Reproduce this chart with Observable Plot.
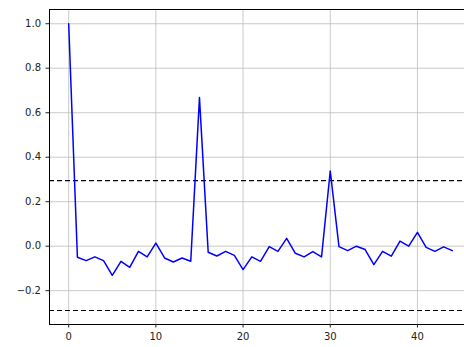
<!DOCTYPE html>
<html>
<head>
<meta charset="utf-8">
<script src="https://cdn.jsdelivr.net/npm/d3@7"></script>
<script src="https://cdn.jsdelivr.net/npm/@observablehq/plot@0.6"></script>
<style>
  html, body { margin: 0; padding: 0; background: #fff; overflow: hidden; }
  #chart { width: 464px; height: 347px; overflow: hidden; }
  #chart svg { display: block; max-width: none !important; }
</style>
</head>
<body>
<div id="chart"></div>
<script>
const lags = d3.range(0, 45);
const acf = [
  1.0, -0.050, -0.065, -0.048, -0.065, -0.131, -0.068, -0.095, -0.023, -0.048,
  0.014, -0.053, -0.071, -0.053, -0.068, 0.668, -0.027, -0.044, -0.023, -0.041,
  -0.105, -0.048, -0.068, -0.002, -0.023, 0.035, -0.032, -0.048, -0.024, -0.048,
  0.338, -0.002, -0.020, 0.000, -0.015, -0.083, -0.023, -0.045, 0.023, 0.000,
  0.062, -0.005, -0.023, -0.003, -0.020
];
const confBounds = [0.295, -0.289];
const xTicks = [0, 10, 20, 30, 40];
const yTicks = [-0.2, 0.0, 0.2, 0.4, 0.6, 0.8, 1.0];

const data = lags.map((l, i) => ({lag: l, value: acf[i]}));

const chart = Plot.plot({
  width: 472,
  height: 347,
  marginLeft: 49,
  marginRight: 1,
  marginTop: 9,
  marginBottom: 23,
  style: {fontFamily: "DejaVu Sans", fontSize: "10px", background: "#fff", color: "#222", maxWidth: "none"},
  x: {domain: [-2.2, 46.2]},
  y: {domain: [-0.352, 1.064]},
  marks: [
    Plot.gridX(xTicks, {stroke: "#bdbdbd", strokeOpacity: 1, strokeWidth: 0.8}),
    Plot.gridY(yTicks, {stroke: "#bdbdbd", strokeOpacity: 1, strokeWidth: 0.8}),
    Plot.ruleY(confBounds, {stroke: "black", strokeWidth: 1.2, strokeDasharray: "5,3"}),
    Plot.line(data, {x: "lag", y: "value", stroke: "#0000ff", strokeWidth: 1.5}),
    Plot.frame({stroke: "black", strokeWidth: 1}),
    Plot.axisX(xTicks, {tickSize: 3.5, tickPadding: 5, tickFormat: d3.format("d"), label: null}),
    Plot.axisY(yTicks, {tickSize: 3.5, tickPadding: 5, tickFormat: d3.format(".1f"), label: null})
  ]
});
document.getElementById("chart").appendChild(chart);
</script>
</body>
</html>
